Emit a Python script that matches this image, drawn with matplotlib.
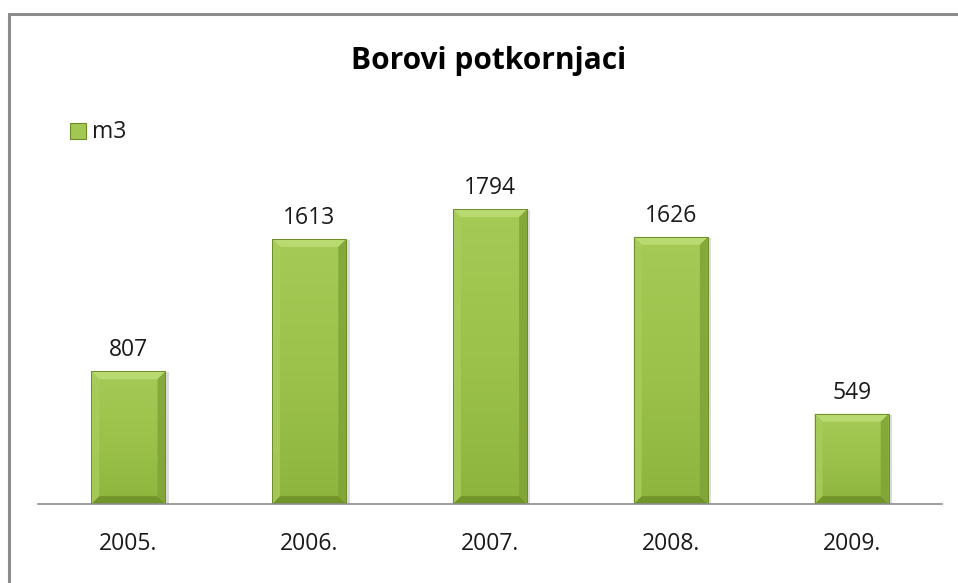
import numpy as np
import matplotlib
matplotlib.use("Agg")
import matplotlib.pyplot as plt
from matplotlib.patches import Rectangle, Polygon

plt.rcParams['font.family'] = ['Open Sans', 'DejaVu Sans']

years = ['2005.', '2006.', '2007.', '2008.', '2009.']
values = [807, 1613, 1794, 1626, 549]
series_name = 'm3'
title = 'Borovi potkornjaci'

fig = plt.figure(figsize=(9.58, 5.83), dpi=100)
fig.patch.set_facecolor('white')

# outer chart border (runs off right/bottom edge as in the screenshot)
fig.patches.append(Rectangle((8.5 / 958, -0.1), 1.2, 1 - 14 / 583 + 0.1,
                             transform=fig.transFigure, fill=False,
                             edgecolor='#8c8c8c', linewidth=2.2))

ax = fig.add_axes([38 / 958, 1 - 504 / 583, 904 / 958, 345 / 583])
ax.set_xlim(-0.5, 4.5)
ax.set_ylim(0, 2100)

x = np.arange(len(years))
width = 0.41
bx = 0.044   # bevel width (data units)
by = 48      # bevel height (data units)
grad = np.linspace(0, 1, 100).reshape(-1, 1)
cmap = matplotlib.colors.LinearSegmentedColormap.from_list(
    'g', ['#8db53d', '#9cc24b', '#a5ca56'])


def bevel_bar(xi, v):
    x0, x1 = xi - width / 2, xi + width / 2
    b = min(by, v / 3)
    # soft shadow
    ax.add_patch(Rectangle((x0 + 0.012, -6), width + 0.006, v, facecolor='#bfbfbf',
                           edgecolor='none', alpha=0.55, zorder=1))
    bar = ax.bar(xi, v, width=width, color='#9cc24b', edgecolor='none', zorder=2)[0]
    im = ax.imshow(grad, extent=(x0, x1, 0, v), aspect='auto', origin='lower',
                   cmap=cmap, zorder=3)
    im.set_clip_path(bar)
    sides = [
        ([(x0, v), (x1, v), (x1 - bx, v - b), (x0 + bx, v - b)], '#bbdc73', 0.95),
        ([(x0, 0), (x1, 0), (x1 - bx, b), (x0 + bx, b)], '#6f9228', 0.9),
        ([(x0, 0), (x0, v), (x0 + bx, v - b), (x0 + bx, b)], '#a9cd5c', 0.8),
        ([(x1, 0), (x1, v), (x1 - bx, v - b), (x1 - bx, b)], '#80a336', 0.85),
    ]
    for pts, c, a in sides:
        ax.add_patch(Polygon(pts, closed=True, facecolor=c, edgecolor='none',
                             alpha=a, zorder=4))
    ax.add_patch(Rectangle((x0, 0), width, v, fill=False, edgecolor='#6d8d2b',
                           linewidth=0.7, zorder=5))


for xi, v in zip(x, values):
    bevel_bar(xi, v)
    ax.annotate(str(v), (xi, v), xytext=(0, 11), textcoords='offset points',
                ha='center', va='baseline', fontsize=16.5, color='#1a1a1a')

for s in ['top', 'right', 'left']:
    ax.spines[s].set_visible(False)
ax.spines['bottom'].set_color('#8c8c8c')
ax.spines['bottom'].set_linewidth(1.2)
ax.spines['bottom'].set_zorder(6)
ax.set_yticks([])
ax.set_xticks(x)
ax.set_xticklabels(years, fontsize=16.5, color='#1a1a1a')
ax.tick_params(axis='x', length=0, pad=20)

fig.text(489 / 958, 1 - 61 / 583, title, ha='center', va='center', fontsize=21.5,
         fontweight='bold', color='black')

# legend
fig.patches.append(Rectangle((70 / 958, 1 - 139 / 583), 16 / 958, 16 / 583,
                             transform=fig.transFigure, facecolor='#a2c753',
                             edgecolor='#6d8d2b', linewidth=0.8))
fig.text(92 / 958, 1 - 132 / 583, series_name, ha='left', va='center',
         fontsize=16.5, color='#1a1a1a')

fig.savefig('out.png', dpi=100, facecolor='white')
